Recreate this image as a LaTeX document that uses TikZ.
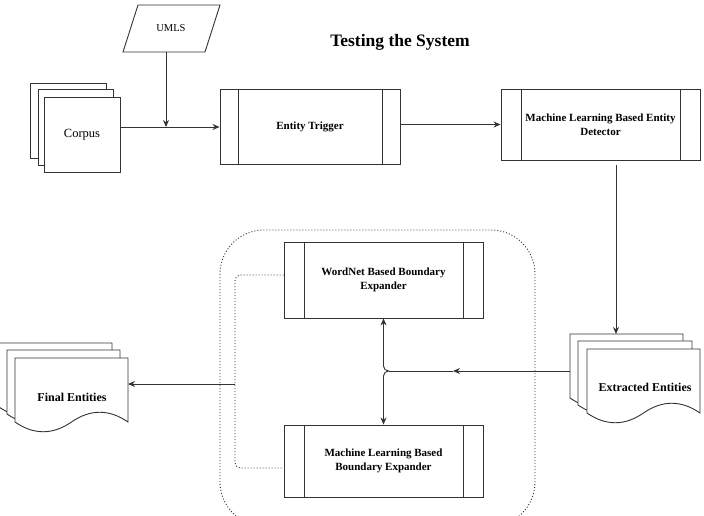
\documentclass[tikz,border=0pt]{standalone}
\usepackage{fontspec}
\setmainfont{Liberation Serif}
\usetikzlibrary{arrows.meta}
\newcommand\docsheet[4]{%
  \filldraw[fill=white] (#1,#2) -- (#3,#2) -- (#3,#4)
    .. controls ({#3-(#3-#1)/6},{#4-13}) and ({#3-(#3-#1)/3},{#4-13}) .. ({(#1+#3)/2},#4)
    .. controls ({#1+(#3-#1)/3},{#4+13}) and ({#1+(#3-#1)/6},{#4+13}) .. (#1,#4) -- cycle;}
\tikzset{
  proc/.style={draw, fill=white, inner sep=0pt, align=center,
    font=\bfseries\fontsize{11}{14}\selectfont,
    path picture={\draw ([xshift=#1]path picture bounding box.north west) -- ([xshift=#1]path picture bounding box.south west)
      ([xshift=-#1]path picture bounding box.north east) -- ([xshift=-#1]path picture bounding box.south east);}},
  proc/.default=19pt,
  arr/.style={-{Stealth[length=7pt,width=6pt]}},
  lbl/.style={inner sep=0pt, align=center},
  dotline/.style={dash pattern=on 1pt off 2pt, line width=0.9pt},
}
\begin{document}
\begin{tikzpicture}[x=1pt,y=-1pt,line width=0.9pt,draw=black!80]
\useasboundingbox (0,0) rectangle (704,516);
\clip (0,0) rectangle (704,516);

% title
\node[lbl, font=\bfseries\fontsize{17.5}{20}\selectfont] (title) at (400,42) {Testing the System};

% UMLS
\filldraw[fill=white] (138,5) -- (220,5) -- (205,52) -- (123,52) -- cycle;
\node[lbl, font=\fontsize{10.5}{12}\selectfont] (umls) at (171,28) {UMLS};
\coordinate (umls-s) at (166,52);

% Corpus stack
\filldraw[fill=white] (30,83) rectangle (106,158);
\filldraw[fill=white] (38,89) rectangle (113,165);
\filldraw[fill=white] (44,97) rectangle (120,172);
\node[lbl, font=\fontsize{12.5}{14}\selectfont] (corpus) at (82,135) {Corpus};
\coordinate (corpus-e) at (120,127);
\coordinate (merge) at (166,127);

% process boxes
\node[proc=18pt, minimum width=180pt, minimum height=75pt] (et) at (310,126.5) {Entity Trigger};
\node[proc=20pt, minimum width=199pt, minimum height=71pt] (det) at (600.5,124.5) {Machine Learning Based Entity\\Detector};
\node[proc=20pt, minimum width=199pt, minimum height=76pt] (wn) at (383.5,280) {WordNet Based Boundary\\Expander};
\node[proc=20pt, minimum width=199pt, minimum height=72pt] (mlb) at (383.5,461) {Machine Learning Based\\Boundary Expander};

% dotted group
\draw[dotline, rounded corners=44pt] (220,230) rectangle (535,526);

% Extracted entities
\docsheet{570}{334}{683}{398}
\docsheet{578}{341}{692}{405}
\docsheet{587}{349}{700}{413}
\node[lbl, font=\bfseries\fontsize{12}{14}\selectfont] (ext) at (645,387) {Extracted Entities};
\coordinate (ext-n) at (616,334);
\coordinate (ext-w) at (570,371);
\coordinate (det-s) at (616,165);

% Final entities
\docsheet{-1}{343}{112}{407}
\docsheet{7}{350}{120}{414}
\docsheet{15}{358}{128}{422}
\node[lbl, font=\bfseries\fontsize{12}{14}\selectfont] (final) at (72,397) {Final Entities};
\coordinate (final-e) at (128,384);
\coordinate (fj) at (235,384);

% connectors
\draw[arr] (umls-s) -- (merge);
\draw[arr] (corpus-e) -- (corpus-e -| et.west);
\draw[arr] (et.east |- det.west) -- (det.west);
\draw[arr] (det-s) -- (ext-n);
\coordinate (amid) at (453,371);
\coordinate (jn) at (389,371);
\draw[arr] (ext-w) -- (amid);
\draw (amid) -- (jn);
\draw[arr, rounded corners=5pt] (jn) -| (wn.south);
\draw[arr, rounded corners=5pt] (jn) -| (mlb.north);
\draw[dotline, rounded corners=6pt] ([yshift=5pt]wn.west) -| ([yshift=-7pt]mlb.west -| fj) -- ([yshift=-7pt]mlb.west);
\draw[arr] (fj) -- (final-e);
\end{tikzpicture}
\end{document}
